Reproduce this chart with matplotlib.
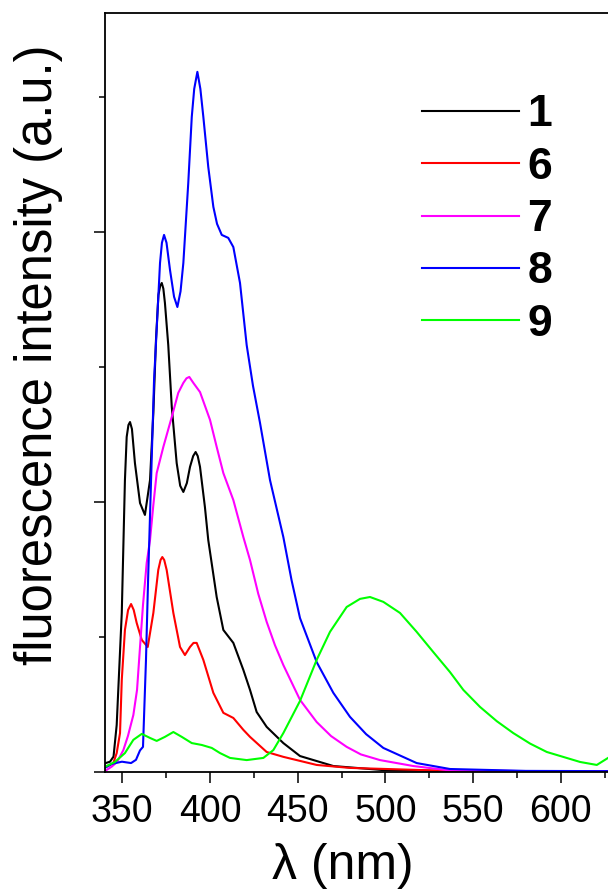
import numpy as np
import matplotlib.pyplot as plt
from matplotlib.ticker import MultipleLocator

plt.rcParams['font.family'] = ['Liberation Sans', 'DejaVu Sans']

# Emission spectra, wavelength (nm) vs intensity (a.u.)
wl_1 = [340, 343, 345, 346.8, 349.7, 351.5, 352.5, 353.5, 354.4, 355.5, 357.2, 360.1, 362.9, 365.8,
        367.7, 369.2, 370.6, 371.6, 372.5, 373.4, 374.3, 376.2, 378.2, 381.0, 383.0, 384.8, 386.8,
        388.6, 390.4, 391.8, 393.0, 394.3, 397.1, 399.0, 403.8, 407.6, 413.3, 419.0, 422.8, 426.6,
        432.3, 441.8, 451.3, 470.3, 498.6, 540, 630]
int_1 = [0.032, 0.038, 0.057, 0.174, 0.589, 1.081, 1.241, 1.285, 1.296, 1.270, 1.144, 0.996, 0.952,
         1.081, 1.330, 1.600, 1.767, 1.800, 1.811, 1.790, 1.737, 1.581, 1.352, 1.144, 1.060, 1.037,
         1.070, 1.130, 1.170, 1.185, 1.170, 1.130, 0.981, 0.859, 0.648, 0.526, 0.478, 0.378, 0.304,
         0.222, 0.167, 0.107, 0.059, 0.022, 0.007, 0.003, 0.002]

wl_6 = [340, 341.1, 344.9, 346.8, 348.7, 349.7, 351.5, 353.3, 355.0, 356.5, 358.2, 361.1, 364.5,
        367.7, 370.5, 371.8, 372.8, 373.9, 375.3, 379.1, 382.9, 385.7, 388.6, 390.6, 392.4, 396.2,
        401.9, 407.6, 413.3, 419.0, 422.8, 432.3, 441.8, 460.8, 479.8, 536.8, 630]
int_6 = [0.018, 0.020, 0.033, 0.070, 0.144, 0.341, 0.526, 0.600, 0.622, 0.600, 0.552, 0.489, 0.463,
         0.589, 0.748, 0.785, 0.796, 0.785, 0.748, 0.589, 0.463, 0.433, 0.463, 0.478, 0.478, 0.415,
         0.293, 0.219, 0.200, 0.156, 0.130, 0.074, 0.056, 0.026, 0.015, 0.004, 0.002]

wl_7 = [340, 344.0, 347.0, 350.6, 353.2, 356.3, 358.4, 360.1, 361.8, 363.9, 365.8, 367.7, 369.6,
        373.4, 378.2, 381.9, 384.8, 386.6, 388.2, 390.5, 394.3, 400.0, 403.8, 407.6, 413.3, 419.0,
        422.8, 427.5, 432.3, 437.0, 441.8, 451.3, 460.8, 469.0, 477.9, 486.0, 496.9, 515.9, 535.0,
        580, 630]
int_7 = [0.003, 0.020, 0.037, 0.081, 0.133, 0.211, 0.304, 0.463, 0.619, 0.774, 0.859, 0.989, 1.107,
         1.204, 1.315, 1.404, 1.441, 1.458, 1.463, 1.441, 1.407, 1.304, 1.204, 1.107, 1.007, 0.870,
         0.785, 0.660, 0.556, 0.470, 0.396, 0.267, 0.185, 0.133, 0.093, 0.065, 0.044, 0.022, 0.007,
         0.003, 0.002]

wl_8 = [340, 344.1, 349.8, 355.0, 357.8, 360.1, 361.8, 363.5, 364.7, 366.4, 368.1, 369.0, 371.5,
        372.6, 373.8, 375.2, 377.2, 379.5, 381.4, 383.2, 384.8, 387.6, 389.6, 391.0, 392.8, 394.5,
        396.2, 399.0, 401.9, 404.0, 406.7, 410.4, 413.3, 417.1, 420.9, 424.5, 428.5, 434.2, 441.8,
        446.5, 451.3, 460.8, 470.3, 479.8, 489.0, 498.8, 517.8, 536.8, 580, 630]
int_8 = [0.015, 0.030, 0.038, 0.033, 0.045, 0.080, 0.093, 0.415, 0.711, 1.081, 1.452, 1.563, 1.885,
         1.960, 1.989, 1.960, 1.859, 1.760, 1.722, 1.780, 1.885, 2.181, 2.426, 2.530, 2.593, 2.530,
         2.426, 2.241, 2.093, 2.030, 1.989, 1.978, 1.944, 1.811, 1.581, 1.430, 1.293, 1.081, 0.870,
         0.710, 0.570, 0.407, 0.293, 0.204, 0.140, 0.089, 0.033, 0.011, 0.004, 0.003]

wl_9 = [340, 345.8, 351.5, 356.3, 361.1, 365.8, 369.6, 374.3, 379.1, 383.9, 389.6, 395.3, 401.0,
        405.7, 411.4, 420.9, 430.4, 436.1, 441.8, 451.3, 460.8, 468.4, 477.9, 485.5, 491.2,
        498.8, 508.3, 517.8, 527.3, 536.8, 544.4, 553.9, 563.5, 572.9, 582.5, 592.0, 611.0, 620.5,
        626.9]
int_9 = [0.019, 0.037, 0.070, 0.119, 0.141, 0.126, 0.115, 0.130, 0.148, 0.130, 0.107, 0.100, 0.089,
         0.070, 0.052, 0.044, 0.052, 0.081, 0.144, 0.263, 0.415, 0.519, 0.611, 0.641, 0.648,
         0.630, 0.589, 0.519, 0.444, 0.370, 0.304, 0.241, 0.188, 0.144, 0.105, 0.074, 0.037, 0.026,
         0.052]

labels = ['1', '6', '7', '8', '9']
colors = ['#000000', '#ff0000', '#ff00ff', '#0000ff', '#00ff00']

fig = plt.figure(figsize=(6.08, 8.94), dpi=100)
# axes run past the right edge of the figure
ax = fig.add_axes([0.1723, 0.1365, 0.8367, 0.849])

series = [(wl_1, int_1), (wl_6, int_6), (wl_7, int_7), (wl_8, int_8), (wl_9, int_9)]
for (wl, inten), lab, c in zip(series, labels, colors):
    ax.plot(wl, inten, color=c, lw=1.5, label=lab, solid_joinstyle='round')

ax.set_xlim(340, 630)
ax.set_ylim(0, 2.811)
ax.xaxis.set_major_locator(MultipleLocator(50))
ax.xaxis.set_minor_locator(MultipleLocator(25))
ax.yaxis.set_major_locator(MultipleLocator(1))
ax.yaxis.set_minor_locator(MultipleLocator(0.5))
ax.set_yticklabels([])
ax.tick_params(which='both', direction='out', width=1.1, top=False, right=False)
ax.tick_params(which='major', length=8, pad=8)
ax.tick_params(which='minor', length=4.5)
ax.tick_params(axis='x', labelsize=27)
for s in ax.spines.values():
    s.set_linewidth(1.3)

ax.set_xlabel('λ (nm)', fontsize=36)
ax.xaxis.set_label_coords(0.468, -0.093)
ax.set_ylabel('fluorescence intensity (a.u.)', fontsize=36.5)
ax.yaxis.set_label_coords(-0.082, 0.550)

leg = ax.legend(loc='upper left', bbox_to_anchor=(0.588, 0.916), frameon=False,
                prop={'size': 32, 'weight': 'bold'}, handlelength=2.18,
                handletextpad=0.2, labelspacing=0.255, borderaxespad=0)

fig.savefig('out.png', dpi=100)
